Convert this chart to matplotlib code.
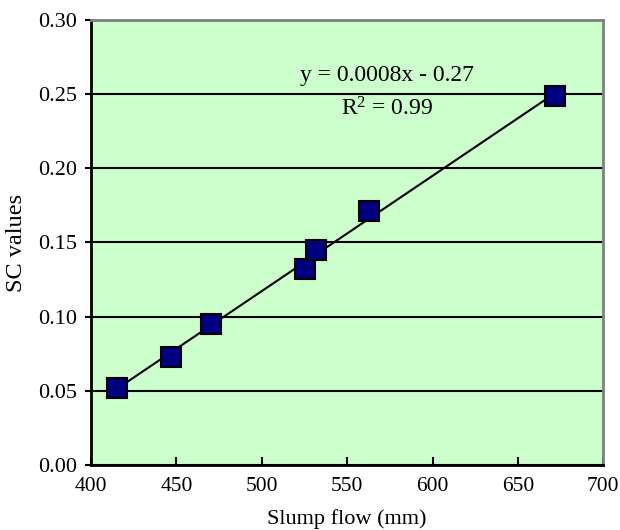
import numpy as np
import matplotlib.pyplot as plt

plt.rcParams['font.family'] = ['Liberation Serif', 'DejaVu Serif']
plt.rcParams['mathtext.default'] = 'regular'

# data
slump_flow = [415, 447, 470, 525, 532, 563, 672]
sc_values = [0.052, 0.073, 0.095, 0.132, 0.145, 0.171, 0.249]

x_ticks = [400, 450, 500, 550, 600, 650, 700]
y_ticks = [0.00, 0.05, 0.10, 0.15, 0.20, 0.25, 0.30]

fig = plt.figure(figsize=(6.2, 5.3), dpi=100)
ax = fig.add_axes([0.147, 0.123, 0.826, 0.839])
ax.set_facecolor('#CCFFCC')

# linear trend line over the data range
coef = np.polyfit(slump_flow, sc_values, 1)
xs = np.array([min(slump_flow), max(slump_flow)])
ax.plot(xs, np.polyval(coef, xs), color='black', lw=1.5, zorder=3)

ax.plot(slump_flow, sc_values, 's', color='#000080', markeredgecolor='black',
        markersize=14, markeredgewidth=1.5, zorder=4)

ax.set_xlim(400, 700)
ax.set_ylim(0, 0.30)
ax.set_xticks(x_ticks)
ax.set_yticks(y_ticks)
ax.set_yticklabels(['%.2f' % v for v in y_ticks])
ax.yaxis.grid(True, color='black', lw=1.5)
ax.set_axisbelow(True)

ax.tick_params(axis='x', direction='in', length=6, width=1.5, labelsize=15.5, pad=9)
ax.tick_params(axis='y', direction='out', length=4, width=1.5, labelsize=16, pad=6)

for side in ['left', 'bottom']:
    ax.spines[side].set_color('black')
    ax.spines[side].set_linewidth(2)
for side in ['top', 'right']:
    ax.spines[side].set_color('#808080')
    ax.spines[side].set_linewidth(2)

ax.set_xlabel('Slump flow (mm)', fontsize=16, labelpad=9)
ax.set_ylabel('SC values', fontsize=17.5, labelpad=8)

ax.text(0.578, 0.875, 'y = 0.0008x - 0.27', transform=ax.transAxes,
        fontsize=17, ha='center', va='center')
ax.text(0.578, 0.80, r'R$^2$ = 0.99', transform=ax.transAxes,
        fontsize=17, ha='center', va='center')

fig.savefig('out.png', dpi=100)
